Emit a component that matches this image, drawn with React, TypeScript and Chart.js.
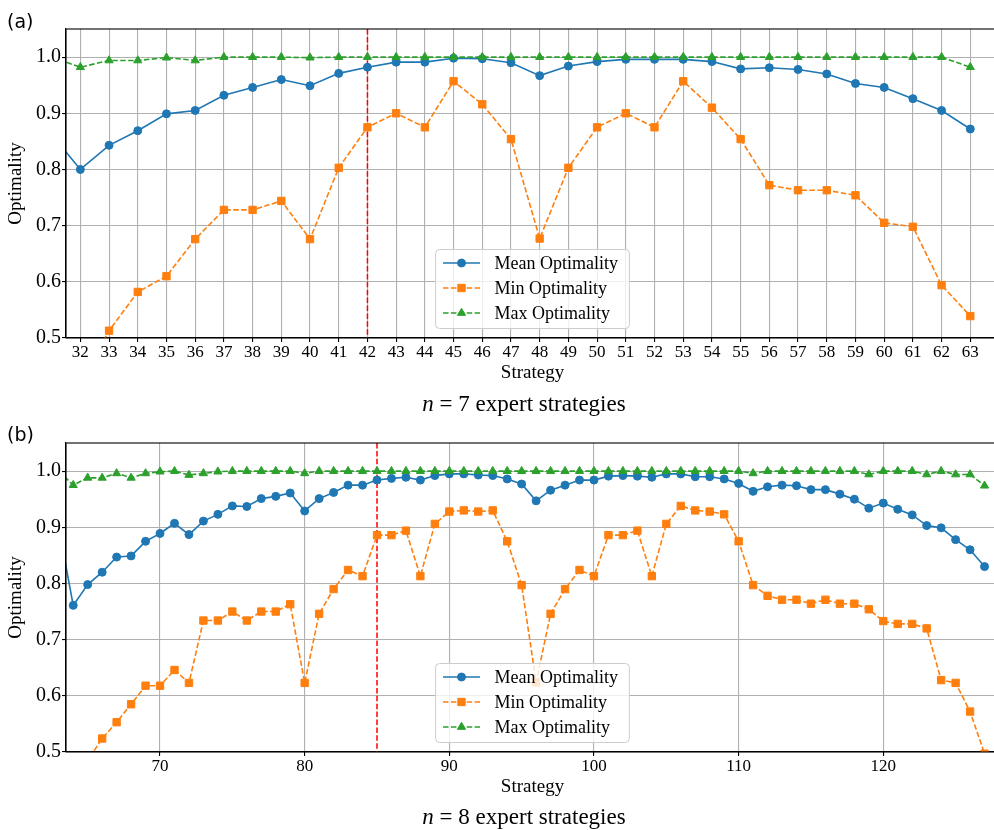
import React, { useEffect, useRef } from 'react';
import { Chart, registerables } from 'chart.js';

Chart.register(...registerables);

// ---------- data: panel (a), n = 7 ----------
const STRATEGIES_7 = [31, 32, 33, 34, 35, 36, 37, 38, 39, 40, 41, 42, 43, 44, 45, 46, 47, 48, 49, 50, 51, 52, 53, 54, 55, 56, 57, 58, 59, 60, 61, 62, 63];
const MEAN_7 = [0.862, 0.800, 0.843, 0.869, 0.899, 0.905, 0.932, 0.946, 0.960, 0.949, 0.971, 0.982, 0.991, 0.991, 0.998, 0.997, 0.990, 0.967, 0.984, 0.992, 0.996, 0.996, 0.996, 0.992, 0.979, 0.981, 0.978, 0.970, 0.953, 0.946, 0.926, 0.905, 0.872];
const MIN_7 = [0.40, 0.42, 0.513, 0.582, 0.610, 0.676, 0.728, 0.728, 0.744, 0.676, 0.803, 0.875, 0.900, 0.875, 0.957, 0.916, 0.854, 0.677, 0.803, 0.875, 0.900, 0.875, 0.957, 0.910, 0.854, 0.772, 0.763, 0.763, 0.754, 0.705, 0.698, 0.594, 0.539];
const MAX_7 = [1.0, 0.982, 0.994, 0.994, 0.999, 0.994, 1.0, 1.0, 1.0, 0.999, 1.0, 1.0, 1.0, 1.0, 1.0, 1.0, 1.0, 1.0, 1.0, 1.0, 1.0, 1.0, 1.0, 1.0, 1.0, 1.0, 1.0, 1.0, 1.0, 1.0, 1.0, 1.0, 0.982];
const X_TICKS_7 = [32, 33, 34, 35, 36, 37, 38, 39, 40, 41, 42, 43, 44, 45, 46, 47, 48, 49, 50, 51, 52, 53, 54, 55, 56, 57, 58, 59, 60, 61, 62, 63];
const EXPERT_7 = 42;

// ---------- data: panel (b), n = 8 ----------
const STRATEGIES_8 = [63, 64, 65, 66, 67, 68, 69, 70, 71, 72, 73, 74, 75, 76, 77, 78, 79, 80, 81, 82, 83, 84, 85, 86, 87, 88, 89, 90, 91, 92, 93, 94, 95, 96, 97, 98, 99, 100, 101, 102, 103, 104, 105, 106, 107, 108, 109, 110, 111, 112, 113, 114, 115, 116, 117, 118, 119, 120, 121, 122, 123, 124, 125, 126, 127];
const MEAN_8 = [0.900, 0.761, 0.798, 0.820, 0.847, 0.849, 0.875, 0.889, 0.907, 0.887, 0.911, 0.923, 0.938, 0.937, 0.951, 0.955, 0.961, 0.929, 0.951, 0.962, 0.975, 0.975, 0.984, 0.987, 0.989, 0.984, 0.992, 0.995, 0.995, 0.993, 0.992, 0.986, 0.977, 0.947, 0.966, 0.975, 0.984, 0.984, 0.991, 0.992, 0.991, 0.989, 0.995, 0.995, 0.990, 0.990, 0.986, 0.978, 0.964, 0.972, 0.975, 0.974, 0.967, 0.967, 0.959, 0.950, 0.934, 0.943, 0.932, 0.922, 0.903, 0.899, 0.878, 0.860, 0.830];
const MIN_8 = [0.45, 0.46, 0.485, 0.524, 0.553, 0.585, 0.618, 0.618, 0.646, 0.623, 0.734, 0.734, 0.750, 0.734, 0.750, 0.750, 0.763, 0.623, 0.746, 0.790, 0.824, 0.813, 0.886, 0.886, 0.894, 0.813, 0.906, 0.928, 0.930, 0.928, 0.930, 0.875, 0.797, 0.624, 0.746, 0.790, 0.824, 0.813, 0.886, 0.886, 0.894, 0.813, 0.906, 0.938, 0.930, 0.928, 0.923, 0.875, 0.797, 0.778, 0.771, 0.771, 0.764, 0.771, 0.764, 0.764, 0.754, 0.733, 0.728, 0.728, 0.720, 0.628, 0.623, 0.572, 0.497];
const MAX_8 = [1.0, 0.975, 0.988, 0.988, 0.996, 0.988, 0.996, 0.999, 1.0, 0.993, 0.996, 0.999, 1.0, 1.0, 1.0, 1.0, 1.0, 0.996, 1.0, 1.0, 1.0, 1.0, 1.0, 1.0, 1.0, 1.0, 1.0, 1.0, 1.0, 1.0, 1.0, 1.0, 1.0, 1.0, 1.0, 1.0, 1.0, 1.0, 1.0, 1.0, 1.0, 1.0, 1.0, 1.0, 1.0, 1.0, 1.0, 1.0, 0.996, 1.0, 1.0, 1.0, 1.0, 1.0, 1.0, 1.0, 0.994, 1.0, 1.0, 1.0, 0.994, 1.0, 0.994, 0.994, 0.974];
const X_TICKS_8 = [70, 80, 90, 100, 110, 120];
const EXPERT_8 = 85;

const Y_TICKS = [0.5, 0.6, 0.7, 0.8, 0.9, 1.0];
const SERIES_LABELS = ['Mean Optimality', 'Min Optimality', 'Max Optimality'];

const SERIF = '"Liberation Serif", "Times New Roman", serif';
const BLUE = '#1f77b4';
const ORANGE = '#ff7f0e';
const GREEN = '#2ca02c';
const DASH = [5.5, 2.4];

function drawMarker(ctx: CanvasRenderingContext2D, style: string, x: number, y: number, r: number) {
  ctx.beginPath();
  if (style === 'circle') {
    ctx.arc(x, y, r, 0, Math.PI * 2);
  } else if (style === 'rect') {
    const s = Math.SQRT1_2 * r;
    ctx.rect(x - s, y - s, 2 * s, 2 * s);
  } else {
    let rad = 0;
    ctx.moveTo(x + Math.sin(rad) * r, y - Math.cos(rad) * r);
    rad += (2 * Math.PI) / 3;
    ctx.lineTo(x + Math.sin(rad) * r, y - Math.cos(rad) * r);
    rad += (2 * Math.PI) / 3;
    ctx.lineTo(x + Math.sin(rad) * r, y - Math.cos(rad) * r);
    ctx.closePath();
  }
  ctx.fill();
  ctx.stroke();
}

const decoPlugin = {
  id: 'deco',
  beforeDatasetsDraw(chart: any, _args: any, opts: any) {
    const { ctx, chartArea } = chart;
    const x = chart.scales.x.getPixelForValue(opts.expert);
    ctx.save();
    ctx.strokeStyle = '#ff0000';
    ctx.lineWidth = 1.5;
    ctx.setLineDash(DASH);
    ctx.beginPath();
    ctx.moveTo(x, chartArea.top);
    ctx.lineTo(x, chartArea.bottom);
    ctx.stroke();
    ctx.restore();
  },
  afterDatasetsDraw(chart: any) {
    const { ctx, chartArea: ca } = chart;
    ctx.save();
    // frame (spines)
    ctx.strokeStyle = '#000';
    ctx.lineWidth = 1.1;
    ctx.setLineDash([]);
    ctx.strokeRect(ca.left, ca.top, ca.right - ca.left, ca.bottom - ca.top);

    // legend (lower center)
    ctx.font = `18px ${SERIF}`;
    const ds = chart.data.datasets;
    let textW = 0;
    ds.forEach((d: any) => { textW = Math.max(textW, ctx.measureText(d.label).width); });
    const padX = 7.4, handle = 37, gap = 14.5, rowH = 25, padTop = 13.5, padBot = 15.5;
    const w = padX + handle + gap + textW + padX + 4;
    const h = padTop + rowH * (ds.length - 1) + padBot;
    const left = (ca.left + ca.right) / 2 - w / 2;
    const bottom = ca.bottom - 9.5;
    const top = bottom - h;
    ctx.beginPath();
    ctx.roundRect(left, top, w, h, 4);
    ctx.fillStyle = 'rgba(255,255,255,0.8)';
    ctx.fill();
    ctx.strokeStyle = '#cccccc';
    ctx.lineWidth = 1;
    ctx.stroke();
    ds.forEach((d: any, i: number) => {
      const y = top + padTop + i * rowH;
      const x0 = left + padX;
      ctx.strokeStyle = d.borderColor;
      ctx.lineWidth = d.borderWidth;
      ctx.setLineDash(d.borderDash || []);
      ctx.beginPath();
      ctx.moveTo(x0, y);
      ctx.lineTo(x0 + handle, y);
      ctx.stroke();
      ctx.setLineDash([]);
      ctx.fillStyle = d.pointBackgroundColor;
      ctx.strokeStyle = d.pointBorderColor;
      ctx.lineWidth = d.pointBorderWidth;
      drawMarker(ctx, d.pointStyle, x0 + handle / 2, y, d.pointRadius);
      ctx.fillStyle = '#000';
      ctx.textBaseline = 'middle';
      ctx.textAlign = 'left';
      ctx.fillText(d.label, x0 + handle + gap, y + 1);
    });
    ctx.restore();
  },
};

type PanelProps = {
  top: number;
  height: number;
  padTop: number;
  strategies: number[];
  mean: number[];
  min: number[];
  max: number[];
  xMin: number;
  xMax: number;
  xTicks: number[];
  expert: number;
};

function Panel(p: PanelProps) {
  const ref = useRef<HTMLCanvasElement>(null);
  useEffect(() => {
    const canvas = ref.current;
    if (!canvas) return;
    const pts = (vals: number[]) => p.strategies.map((s, i) => ({ x: s, y: vals[i] }));
    const common = { tension: 0, fill: false, clip: 0, borderWidth: 1.6, pointBorderWidth: 1, pointHoverRadius: 0 };
    const chart = new Chart(canvas, {
      type: 'line',
      data: {
        datasets: [
          {
            ...common,
            label: SERIES_LABELS[0],
            data: pts(p.mean),
            borderColor: BLUE,
            backgroundColor: BLUE,
            pointBackgroundColor: BLUE,
            pointBorderColor: BLUE,
            pointStyle: 'circle',
            pointRadius: 4,
            borderDash: [],
            order: 3,
          },
          {
            ...common,
            label: SERIES_LABELS[1],
            data: pts(p.min),
            borderColor: ORANGE,
            backgroundColor: ORANGE,
            pointBackgroundColor: ORANGE,
            pointBorderColor: ORANGE,
            pointStyle: 'rect',
            pointRadius: 5.2,
            borderDash: DASH,
            order: 2,
          },
          {
            ...common,
            label: SERIES_LABELS[2],
            data: pts(p.max),
            borderColor: GREEN,
            backgroundColor: GREEN,
            pointBackgroundColor: GREEN,
            pointBorderColor: GREEN,
            pointStyle: 'triangle',
            pointRadius: 4.7,
            borderDash: DASH,
            order: 1,
          },
        ],
      } as any,
      options: {
        responsive: false,
        animation: false,
        events: [],
        devicePixelRatio: 1,
        layout: { padding: { top: p.padTop, bottom: p.height - p.padTop - 309 - 46, left: 0, right: 11 } },
        plugins: {
          legend: { display: false },
          tooltip: { enabled: false },
          deco: { expert: p.expert },
        } as any,
        scales: {
          x: {
            type: 'linear',
            min: p.xMin,
            max: p.xMax,
            afterBuildTicks: (axis: any) => { axis.ticks = p.xTicks.map((v) => ({ value: v })); },
            afterFit: (axis: any) => { axis.height = 46; },
            ticks: {
              autoSkip: false,
              maxRotation: 0,
              padding: 0,
              color: '#000',
              font: { family: SERIF, size: 17 },
              callback: (v: any) => String(v),
            },
            grid: { color: '#b0b0b0', lineWidth: 1.1, drawTicks: true, tickLength: 4, tickColor: '#000', tickWidth: 1.1 },
            border: { display: true, color: '#000', width: 1.1 },
            title: { display: true, text: 'Strategy', color: '#000', font: { family: SERIF, size: 19 }, padding: { top: 0, bottom: 0 } },
          },
          y: {
            type: 'linear',
            min: 0.5,
            max: 1.05,
            afterBuildTicks: (axis: any) => { axis.ticks = Y_TICKS.map((v) => ({ value: v })); },
            afterFit: (axis: any) => { axis.width = 66; },
            ticks: {
              padding: 1,
              color: '#000',
              font: { family: SERIF, size: 20 },
              callback: (v: any) => Number(v).toFixed(1),
            },
            grid: { color: '#b0b0b0', lineWidth: 1.1, drawTicks: true, tickLength: 4, tickColor: '#000', tickWidth: 1.1 },
            border: { display: true, color: '#000', width: 1.1 },
            title: { display: true, text: 'Optimality', color: '#000', font: { family: SERIF, size: 19 }, padding: { top: 5, bottom: 0 } },
          },
        },
      } as any,
      plugins: [decoPlugin as any],
    });
    return () => chart.destroy();
  }, []);
  return (
    <canvas
      ref={ref}
      width={1010}
      height={p.height}
      style={{ position: 'absolute', left: 0, top: p.top, width: 1010, height: p.height, display: 'block' }}
    />
  );
}

const panelLabel: React.CSSProperties = {
  position: 'absolute',
  left: 7,
  fontFamily: '"DejaVu Sans", sans-serif',
  fontSize: 19,
  lineHeight: '22px',
  color: '#000',
};

const caption: React.CSSProperties = {
  position: 'absolute',
  left: 324,
  width: 400,
  textAlign: 'center',
  fontFamily: SERIF,
  fontSize: 23,
  lineHeight: '26px',
  color: '#000',
  whiteSpace: 'nowrap',
};

export default function App() {
  return (
    <div style={{ position: 'absolute', left: 0, top: 0, width: 994, height: 830, overflow: 'hidden', background: '#fff' }}>
      <Panel
        top={0}
        height={413}
        padTop={29}
        strategies={STRATEGIES_7}
        mean={MEAN_7}
        min={MIN_7}
        max={MAX_7}
        xMin={31.5}
        xMax={64}
        xTicks={X_TICKS_7}
        expert={EXPERT_7}
      />
      <Panel
        top={413}
        height={417}
        padTop={30}
        strategies={STRATEGIES_8}
        mean={MEAN_8}
        min={MIN_8}
        max={MAX_8}
        xMin={63.5}
        xMax={128}
        xTicks={X_TICKS_8}
        expert={EXPERT_8}
      />
      <div style={{ ...panelLabel, top: 10 }}>(a)</div>
      <div style={{ ...panelLabel, top: 423 }}>(b)</div>
      <div style={{ ...caption, top: 391 }}>
        <i>n</i> = 7 expert strategies
      </div>
      <div style={{ ...caption, top: 804 }}>
        <i>n</i> = 8 expert strategies
      </div>
    </div>
  );
}
